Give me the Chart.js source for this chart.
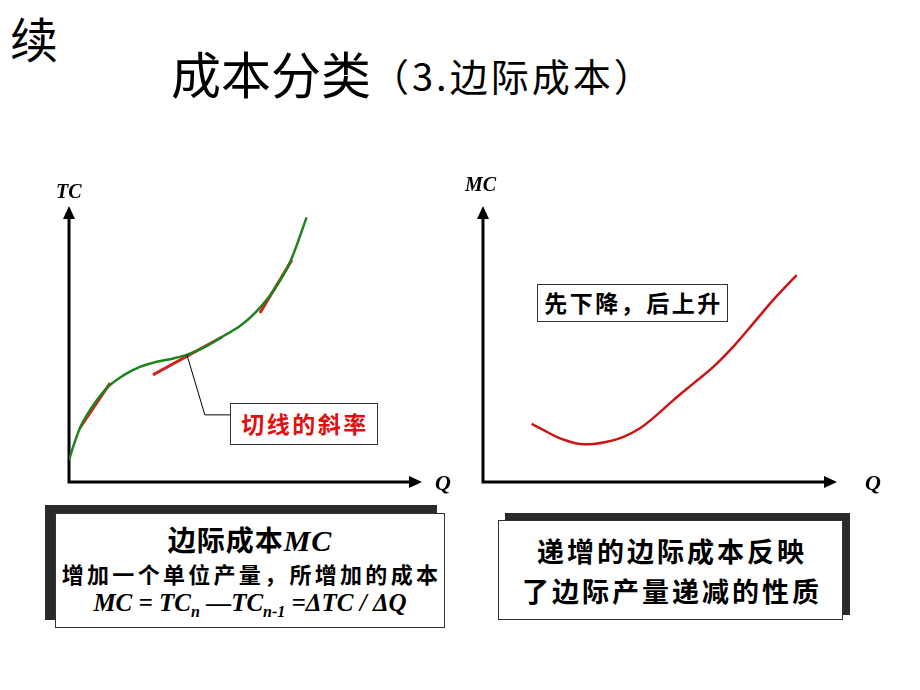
<!DOCTYPE html>
<html><head><meta charset="utf-8">
<script src="https://cdn.jsdelivr.net/npm/chart.js@4/dist/chart.umd.min.js"></script>
<style>
html,body{margin:0;padding:0;background:#fff;}
body{width:920px;height:690px;position:relative;overflow:hidden;font-family:"Noto Sans CJK SC",sans-serif;}
.abs{position:absolute;}
canvas{position:absolute;}
.lbl{position:absolute;font-family:"Liberation Serif",serif;font-weight:bold;font-style:italic;color:#000;}
.box{position:absolute;background:#fff;border:1.5px solid #333;box-sizing:border-box;text-align:center;font-weight:bold;white-space:nowrap;}
.shadow{position:absolute;background:#2b2b2b;}
</style></head><body>
<div class="abs" style="left:10px;top:13px;font-size:48px;line-height:48px;">续</div>
<div class="abs" style="left:171px;top:47px;font-size:50px;line-height:50px;white-space:nowrap;">成本分类<span style="font-size:38px;vertical-align:3px;letter-spacing:3px;">（3.边际成本）</span></div>

<canvas id="c1" width="430" height="330" style="left:40px;top:170px;width:430px;height:330px;"></canvas>
<canvas id="c2" width="430" height="330" style="left:460px;top:170px;width:430px;height:330px;"></canvas>

<div class="lbl" style="left:56px;top:180px;font-size:20px;">TC</div>
<div class="lbl" style="left:435px;top:470px;font-size:22px;">Q</div>
<div class="lbl" style="left:465px;top:173px;font-size:20px;">MC</div>
<div class="lbl" style="left:865px;top:470px;font-size:22px;">Q</div>

<div class="box" style="left:230px;top:403px;width:148px;height:42px;color:#e01010;font-size:23px;line-height:39px;letter-spacing:2.5px;padding-left:2px;">切线的斜率</div>
<div class="box" style="left:537px;top:284px;width:191px;height:38px;color:#000;font-size:23px;line-height:35px;letter-spacing:2.5px;padding-left:2px;">先下降，后上升</div>

<div class="shadow" style="left:45px;top:505px;width:392px;height:115px;"></div>
<div class="box" style="left:55px;top:513px;width:390px;height:115px;color:#000;">
  <div style="font-size:28px;line-height:32px;margin-top:9px;letter-spacing:1px;">边际成本<span style="font-family:'Liberation Serif',serif;font-style:italic;font-size:30px;">MC</span></div>
  <div style="font-size:22px;line-height:26px;margin-top:3px;letter-spacing:3.3px;padding-left:3px;">增加一个单位产量，所增加的成本</div>
  <div style="font-family:'Liberation Serif',serif;font-style:italic;font-size:25px;line-height:28px;margin-top:3px;">MC = TC<sub style="font-size:16px;">n</sub> —TC<sub style="font-size:16px;">n-1</sub> =ΔTC / ΔQ</div>
</div>

<div class="shadow" style="left:505px;top:513px;width:345px;height:102px;"></div>
<div class="box" style="left:498px;top:520px;width:345px;height:100px;color:#000;font-size:27px;line-height:40px;padding-top:10px;letter-spacing:3px;padding-left:3px;">递增的边际成本反映<br>了边际产量递减的性质</div>

<script>
// Left chart: total cost curve (TC vs Q)
const tcQ = [0, 0.12, 0.31, 0.60, 1.07, 1.55, 2.02, 2.50, 2.97, 3.35, 3.92, 4.40, 4.87, 5.35, 5.82, 6.30, 6.77];
const tcVal = [0.80, 1.29, 1.96, 2.63, 3.42, 3.89, 4.20, 4.39, 4.51, 4.64, 4.96, 5.33, 5.69, 6.24, 6.97, 8.03, 9.66];
// tangent segments [q1, tc1, q2, tc2]
const tangent1 = [0.31, 1.97, 1.17, 3.61];
const tangent2 = [2.39, 3.91, 4.36, 5.29];
const tangent3 = [5.44, 6.17, 6.35, 8.10];
// callout leader line
const leaderQ = [3.36, 3.87, 4.59];
const leaderV = [4.64, 2.45, 2.45];
// Right chart: marginal cost curve (MC vs Q)
const mcQ = [1.38, 1.71, 2.09, 2.47, 2.76, 3.14, 3.52, 3.99, 4.46, 4.93, 5.41, 5.98, 6.55, 7.11, 7.68, 8.24, 8.91];
const mcVal = [2.12, 1.90, 1.65, 1.47, 1.39, 1.39, 1.47, 1.65, 1.96, 2.44, 2.99, 3.60, 4.21, 4.94, 5.79, 6.64, 7.55];

const pts = (xs, ys) => xs.map((x, i) => ({x, y: ys[i]}));
const seg = s => [{x: s[0], y: s[1]}, {x: s[2], y: s[3]}];

const axesPlugin = {
  id: 'arrowAxes',
  beforeDatasetsDraw(chart) {
    const {ctx, chartArea: a} = chart;
    ctx.save();
    ctx.strokeStyle = '#000'; ctx.fillStyle = '#000'; ctx.lineWidth = 3;
    ctx.beginPath();
    ctx.moveTo(a.left, a.top + 8); ctx.lineTo(a.left, a.bottom); ctx.lineTo(a.right - 8, a.bottom);
    ctx.stroke();
    ctx.beginPath();
    ctx.moveTo(a.left, a.top - 2); ctx.lineTo(a.left - 6, a.top + 11); ctx.lineTo(a.left + 6, a.top + 11); ctx.closePath(); ctx.fill();
    ctx.beginPath();
    ctx.moveTo(a.right + 2, a.bottom); ctx.lineTo(a.right - 11, a.bottom - 6); ctx.lineTo(a.right - 11, a.bottom + 6); ctx.closePath(); ctx.fill();
    ctx.restore();
  }
};

const baseOpts = pad => ({
  responsive: false, animation: false, events: [],
  layout: {padding: pad},
  plugins: {legend: {display: false}, tooltip: {enabled: false}},
  elements: {point: {radius: 0}},
  scales: {
    x: {type: 'linear', min: 0, max: 10, display: false},
    y: {type: 'linear', min: 0, max: 10, display: false}
  }
});

new Chart(document.getElementById('c1'), {
  type: 'line',
  data: {datasets: [
    {data: pts(leaderQ, leaderV), borderColor: '#000', borderWidth: 1, tension: 0},
    {data: pts(tcQ, tcVal), borderColor: '#1c841c', borderWidth: 2.5, cubicInterpolationMode: 'monotone'},
    {data: seg(tangent1), borderColor: '#d42020', borderWidth: 3},
    {data: seg(tangent2), borderColor: '#d42020', borderWidth: 3},
    {data: seg(tangent3), borderColor: '#d42020', borderWidth: 3}
  ]},
  options: baseOpts({left: 29, top: 38, right: 50, bottom: 18}),
  plugins: [axesPlugin]
});

new Chart(document.getElementById('c2'), {
  type: 'line',
  data: {datasets: [
    {data: pts(mcQ, mcVal), borderColor: '#cc1414', borderWidth: 2.5, tension: 0.35}
  ]},
  options: baseOpts({left: 23, top: 38, right: 55, bottom: 18}),
  plugins: [axesPlugin]
});
</script>
</body></html>
